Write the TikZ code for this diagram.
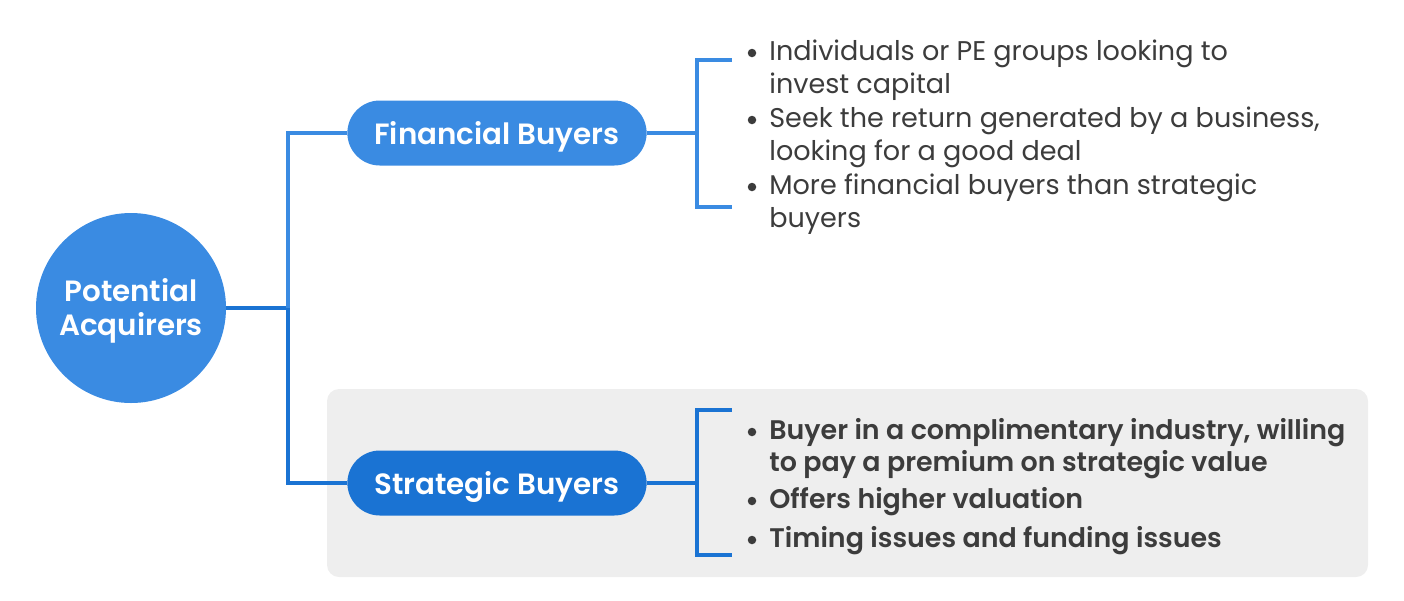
\documentclass[tikz,border=0pt]{standalone}
\usepackage{fontspec}
\usetikzlibrary{shapes.misc}
\setmainfont{Poppins}[BoldFont={Poppins SemiBold}]
\definecolor{blueA}{HTML}{3A8BE2}
\definecolor{blueB}{HTML}{1A73D3}
\definecolor{boxgray}{HTML}{EEEEEE}
\definecolor{txt}{HTML}{3C3C3C}
\begin{document}
\begin{tikzpicture}[x=0.02cm,y=-0.02cm,
  conn/.style={line width=4.2pt*0.5669},
  pill/.style={rounded rectangle, minimum width=311*0.02cm, minimum height=65*0.02cm, text=white, text depth=0pt, font=\bfseries\fontsize{16.7}{20}\selectfont},
  itemtxt/.style={anchor=base west, align=left, text=txt, inner sep=0pt, font=\fontsize{15.4}{18.7}\selectfont},
  itembold/.style={itemtxt, font=\bfseries\fontsize{15.3}{18.2}\selectfont},
  bul/.style={circle, fill=txt, inner sep=0pt, minimum size=8.5*0.02cm}
]
\useasboundingbox (0,0) rectangle (1404,600);
\fill[boxgray, rounded corners=12*0.02cm] (327,389) rectangle (1368,577);

\node[circle, fill=blueA, minimum size=190*0.02cm] (root) at (131,308) {};
\node[text=white, align=center, font=\bfseries\fontsize{16.7}{19.3}\selectfont] (rootlabel) at (131,311) {Potential\\Acquirers};
\node[pill, fill=blueA] (fin) at (497,133) {Financial Buyers};
\node[pill, fill=blueB] (str) at (497,483) {Strategic Buyers};

\coordinate (j) at (288,308);
\draw[conn, blueB] (root.east) -- (j);
\draw[conn, blueA] (j) |- (fin.west);
\draw[conn, blueB] (j) |- (str.west);

% brackets
\coordinate (fb) at (697,133);
\coordinate (sb) at (697,483);
\draw[conn, blueA] (fin.east) -- (fb);
\draw[conn, blueA, line cap=rect] (730,60) -- (697,60) -- (697,207) -- (730,207);
\draw[conn, blueB] (str.east) -- (sb);
\draw[conn, blueB, line cap=rect] (730,410) -- (697,410) -- (697,555) -- (730,555);

% financial bullets
\node[bul] (fb1) at (752,53) {};
\node[itemtxt] (f1) at (769,93) {Individuals or PE groups looking to\\invest capital};
\node[bul] (fb2) at (752,120) {};
\node[itemtxt] (f2) at (769,160) {Seek the return generated by a business,\\looking for a good deal};
\node[bul] (fb3) at (752,187) {};
\node[itemtxt] (f3) at (769,227) {More financial buyers than strategic\\buyers};

% strategic bullets
\node[bul] (sb1) at (752,432) {};
\node[itembold] (s1) at (769,471) {Buyer in a complimentary industry, willing\\to pay a premium on strategic value};
\node[bul] (sb2) at (752,501) {};
\node[itembold] (s2) at (769,508) {Offers higher valuation};
\node[bul] (sb3) at (752,540) {};
\node[itembold] (s3) at (769,547) {Timing issues and funding issues};
\end{tikzpicture}
\end{document}
